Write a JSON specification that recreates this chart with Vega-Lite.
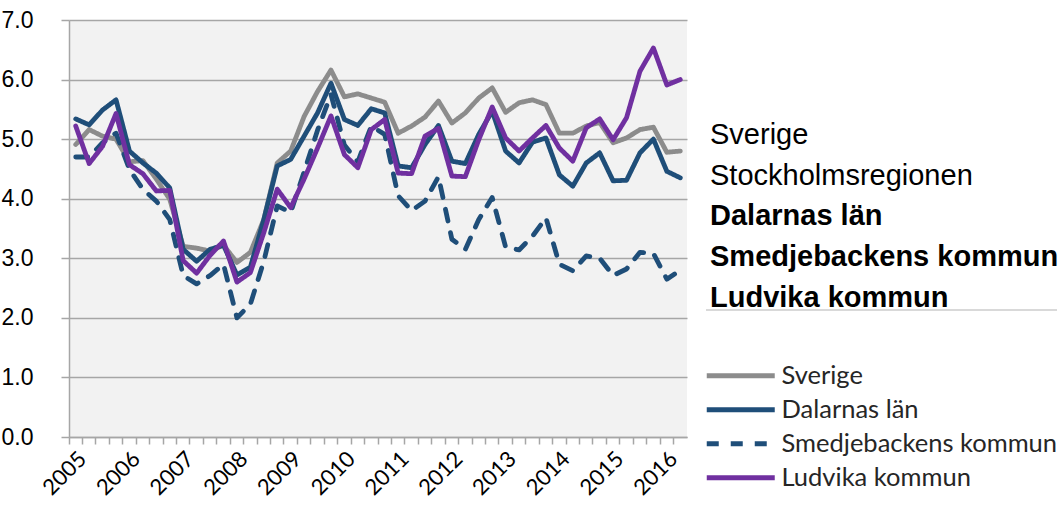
{
  "$schema": "https://vega.github.io/schema/vega-lite/v6.json",
  "background": "white",
  "padding": {"left": 1, "top": 9, "right": 0, "bottom": 0},
  "bounds": "flush",
  "center": true,
  "spacing": 19,
  "config": {"font": "Liberation Sans"},
  "datasets": {
    "kvartal": [
      {"kvartal": "2005 K1", "Sverige": 4.91, "Dalarnas län": 5.34, "Smedjebackens kommun": 4.70, "Ludvika kommun": 5.22},
      {"kvartal": "2005 K2", "Sverige": 5.16, "Dalarnas län": 5.24, "Smedjebackens kommun": 4.70, "Ludvika kommun": 4.59},
      {"kvartal": "2005 K3", "Sverige": 5.05, "Dalarnas län": 5.49, "Smedjebackens kommun": 4.94, "Ludvika kommun": 4.88},
      {"kvartal": "2005 K4", "Sverige": 5.00, "Dalarnas län": 5.66, "Smedjebackens kommun": 5.10, "Ludvika kommun": 5.43},
      {"kvartal": "2006 K1", "Sverige": 4.62, "Dalarnas län": 4.80, "Smedjebackens kommun": 4.49, "Ludvika kommun": 4.57},
      {"kvartal": "2006 K2", "Sverige": 4.64, "Dalarnas län": 4.60, "Smedjebackens kommun": 4.16, "Ludvika kommun": 4.42},
      {"kvartal": "2006 K3", "Sverige": 4.33, "Dalarnas län": 4.43, "Smedjebackens kommun": 3.96, "Ludvika kommun": 4.13},
      {"kvartal": "2006 K4", "Sverige": 3.99, "Dalarnas län": 4.18, "Smedjebackens kommun": 3.65, "Ludvika kommun": 4.14},
      {"kvartal": "2007 K1", "Sverige": 3.20, "Dalarnas län": 3.15, "Smedjebackens kommun": 2.71, "Ludvika kommun": 2.96},
      {"kvartal": "2007 K2", "Sverige": 3.17, "Dalarnas län": 2.95, "Smedjebackens kommun": 2.57, "Ludvika kommun": 2.75},
      {"kvartal": "2007 K3", "Sverige": 3.12, "Dalarnas län": 3.15, "Smedjebackens kommun": 2.71, "Ludvika kommun": 3.05},
      {"kvartal": "2007 K4", "Sverige": 3.22, "Dalarnas län": 3.22, "Smedjebackens kommun": 2.90, "Ludvika kommun": 3.29},
      {"kvartal": "2008 K1", "Sverige": 2.93, "Dalarnas län": 2.72, "Smedjebackens kommun": 2.00, "Ludvika kommun": 2.60},
      {"kvartal": "2008 K2", "Sverige": 3.10, "Dalarnas län": 2.85, "Smedjebackens kommun": 2.23, "Ludvika kommun": 2.76},
      {"kvartal": "2008 K3", "Sverige": 3.65, "Dalarnas län": 3.65, "Smedjebackens kommun": 2.95, "Ludvika kommun": 3.43},
      {"kvartal": "2008 K4", "Sverige": 4.60, "Dalarnas län": 4.55, "Smedjebackens kommun": 3.88, "Ludvika kommun": 4.16},
      {"kvartal": "2009 K1", "Sverige": 4.80, "Dalarnas län": 4.66, "Smedjebackens kommun": 3.77, "Ludvika kommun": 3.85},
      {"kvartal": "2009 K2", "Sverige": 5.38, "Dalarnas län": 5.05, "Smedjebackens kommun": 4.45, "Ludvika kommun": 4.33},
      {"kvartal": "2009 K3", "Sverige": 5.80, "Dalarnas län": 5.44, "Smedjebackens kommun": 5.15, "Ludvika kommun": 4.85},
      {"kvartal": "2009 K4", "Sverige": 6.16, "Dalarnas län": 5.94, "Smedjebackens kommun": 5.75, "Ludvika kommun": 5.39},
      {"kvartal": "2010 K1", "Sverige": 5.71, "Dalarnas län": 5.33, "Smedjebackens kommun": 4.90, "Ludvika kommun": 4.74},
      {"kvartal": "2010 K2", "Sverige": 5.76, "Dalarnas län": 5.23, "Smedjebackens kommun": 4.62, "Ludvika kommun": 4.52},
      {"kvartal": "2010 K3", "Sverige": 5.69, "Dalarnas län": 5.51, "Smedjebackens kommun": 5.22, "Ludvika kommun": 5.16},
      {"kvartal": "2010 K4", "Sverige": 5.62, "Dalarnas län": 5.44, "Smedjebackens kommun": 5.08, "Ludvika kommun": 5.33},
      {"kvartal": "2011 K1", "Sverige": 5.10, "Dalarnas län": 4.55, "Smedjebackens kommun": 4.05, "Ludvika kommun": 4.43},
      {"kvartal": "2011 K2", "Sverige": 5.22, "Dalarnas län": 4.52, "Smedjebackens kommun": 3.80, "Ludvika kommun": 4.42},
      {"kvartal": "2011 K3", "Sverige": 5.37, "Dalarnas län": 4.91, "Smedjebackens kommun": 3.96, "Ludvika kommun": 5.05},
      {"kvartal": "2011 K4", "Sverige": 5.64, "Dalarnas län": 5.23, "Smedjebackens kommun": 4.37, "Ludvika kommun": 5.18},
      {"kvartal": "2012 K1", "Sverige": 5.27, "Dalarnas län": 4.63, "Smedjebackens kommun": 3.32, "Ludvika kommun": 4.38},
      {"kvartal": "2012 K2", "Sverige": 5.44, "Dalarnas län": 4.59, "Smedjebackens kommun": 3.15, "Ludvika kommun": 4.37},
      {"kvartal": "2012 K3", "Sverige": 5.69, "Dalarnas län": 5.08, "Smedjebackens kommun": 3.65, "Ludvika kommun": 4.99},
      {"kvartal": "2012 K4", "Sverige": 5.86, "Dalarnas län": 5.47, "Smedjebackens kommun": 4.02, "Ludvika kommun": 5.54},
      {"kvartal": "2013 K1", "Sverige": 5.45, "Dalarnas län": 4.80, "Smedjebackens kommun": 3.19, "Ludvika kommun": 5.02},
      {"kvartal": "2013 K2", "Sverige": 5.61, "Dalarnas län": 4.60, "Smedjebackens kommun": 3.14, "Ludvika kommun": 4.80},
      {"kvartal": "2013 K3", "Sverige": 5.66, "Dalarnas län": 4.95, "Smedjebackens kommun": 3.37, "Ludvika kommun": 5.02},
      {"kvartal": "2013 K4", "Sverige": 5.58, "Dalarnas län": 5.02, "Smedjebackens kommun": 3.68, "Ludvika kommun": 5.23},
      {"kvartal": "2014 K1", "Sverige": 5.10, "Dalarnas län": 4.40, "Smedjebackens kommun": 2.90, "Ludvika kommun": 4.85},
      {"kvartal": "2014 K2", "Sverige": 5.10, "Dalarnas län": 4.21, "Smedjebackens kommun": 2.79, "Ludvika kommun": 4.63},
      {"kvartal": "2014 K3", "Sverige": 5.22, "Dalarnas län": 4.60, "Smedjebackens kommun": 3.04, "Ludvika kommun": 5.19},
      {"kvartal": "2014 K4", "Sverige": 5.28, "Dalarnas län": 4.77, "Smedjebackens kommun": 3.00, "Ludvika kommun": 5.34},
      {"kvartal": "2015 K1", "Sverige": 4.94, "Dalarnas län": 4.30, "Smedjebackens kommun": 2.71, "Ludvika kommun": 4.99},
      {"kvartal": "2015 K2", "Sverige": 5.02, "Dalarnas län": 4.31, "Smedjebackens kommun": 2.82, "Ludvika kommun": 5.36},
      {"kvartal": "2015 K3", "Sverige": 5.16, "Dalarnas län": 4.77, "Smedjebackens kommun": 3.10, "Ludvika kommun": 6.14},
      {"kvartal": "2015 K4", "Sverige": 5.20, "Dalarnas län": 5.00, "Smedjebackens kommun": 3.08, "Ludvika kommun": 6.53},
      {"kvartal": "2016 K1", "Sverige": 4.78, "Dalarnas län": 4.46, "Smedjebackens kommun": 2.65, "Ludvika kommun": 5.91},
      {"kvartal": "2016 K2", "Sverige": 4.80, "Dalarnas län": 4.35, "Smedjebackens kommun": 2.80, "Ludvika kommun": 6.00}
    ],
    "texter": [
      {"text": "Sverige", "markerad": false},
      {"text": "Stockholmsregionen", "markerad": false},
      {"text": "Dalarnas län", "markerad": true},
      {"text": "Smedjebackens kommun", "markerad": true},
      {"text": "Ludvika kommun", "markerad": true}
    ]
  },
  "hconcat": [
    {
      "width": 618,
      "height": 417,
      "view": {"fill": "#f2f2f2", "stroke": null},
      "data": {"name": "kvartal"},
      "transform": [
        {"fold": ["Sverige", "Dalarnas län", "Smedjebackens kommun", "Ludvika kommun"], "as": ["serie", "varde"]}
      ],
      "mark": {"type": "line", "strokeWidth": 4.8, "strokeJoin": "round", "strokeCap": "round"},
      "encoding": {
        "x": {
          "field": "kvartal", "type": "ordinal", "bandPosition": 0.5,
          "scale": {"type": "band", "paddingInner": 0, "paddingOuter": 0},
          "axis": {
            "title": null, "bandPosition": 0, "labelAngle": -45,
            "labelExpr": "slice(datum.value, -2) == 'K1' ? slice(datum.value, 0, 4) : ''",
            "labelFont": "Lato", "labelFontSize": 22, "labelColor": "#000000",
            "labelOverlap": false, "labelBound": false, "labelPadding": 4,
            "tickSize": 7, "tickColor": "#a6a6a6", "tickWidth": 1.5,
            "domainColor": "#a6a6a6", "domainWidth": 1.5, "grid": false
          }
        },
        "y": {
          "field": "varde", "type": "quantitative",
          "scale": {"domain": [0, 7], "nice": false},
          "axis": {
            "title": null, "values": [0, 1, 2, 3, 4, 5, 6, 7], "format": ".1f",
            "labelFont": "Liberation Sans", "labelFontSize": 23, "labelColor": "#000000",
            "labelPadding": 28, "tickSize": 8, "tickColor": "#a6a6a6", "tickWidth": 1.5,
            "domainColor": "#a6a6a6", "domainWidth": 1.5,
            "gridColor": "#a6a6a6", "gridWidth": 1.5
          }
        },
        "color": {
          "field": "serie", "type": "nominal",
          "scale": {
            "domain": ["Sverige", "Dalarnas län", "Smedjebackens kommun", "Ludvika kommun"],
            "range": ["#8c8c8c", "#1f4e79", "#1f4e79", "#7030a0"]
          },
          "legend": {
            "title": null, "orient": "none", "legendX": 659, "legendY": 343,
            "symbolType": "M-4,0H4", "symbolSize": 289, "symbolStrokeWidth": 5,
            "labelFont": "Lato", "labelFontSize": 25.5, "labelColor": "#262626",
            "labelOffset": 28, "rowPadding": 7, "labelLimit": 400
          }
        },
        "strokeDash": {
          "field": "serie", "type": "nominal",
          "scale": {
            "domain": ["Sverige", "Dalarnas län", "Smedjebackens kommun", "Ludvika kommun"],
            "range": [[1, 0], [1, 0], [12, 12], [1, 0]]
          },
          "legend": {
            "title": null, "orient": "none", "legendX": 659, "legendY": 343,
            "symbolType": "M-4,0H4", "symbolSize": 289, "symbolStrokeWidth": 5,
            "labelFont": "Lato", "labelFontSize": 25.5, "labelColor": "#262626",
            "labelOffset": 28, "rowPadding": 7, "labelLimit": 400
          }
        }
      }
    },
    {
      "width": 351,
      "height": 268.95,
      "view": {"stroke": null},
      "data": {"name": "texter"},
      "encoding": {
        "y": {
          "field": "text", "type": "nominal", "sort": null,
          "scale": {
            "type": "band",
            "domain": ["Sverige", "Stockholmsregionen", "Dalarnas län", "Smedjebackens kommun", "Ludvika kommun"],
            "paddingInner": 0.4, "paddingOuter": 1, "align": 0.351
          },
          "axis": null
        }
      },
      "layer": [
        {
          "transform": [{"filter": "!datum.markerad"}],
          "mark": {"type": "text", "align": "left", "baseline": "middle", "font": "Liberation Sans", "fontSize": 29, "color": "#000000", "dx": 4},
          "encoding": {
            "x": {"datum": 0, "type": "quantitative", "scale": {"domain": [0, 1]}, "axis": null},
            "y": {"field": "text", "type": "nominal", "bandPosition": 0.5},
            "text": {"field": "text"}
          }
        },
        {
          "transform": [{"filter": "datum.markerad"}],
          "mark": {"type": "text", "align": "left", "baseline": "middle", "font": "Liberation Sans", "fontSize": 29, "fontWeight": "bold", "color": "#000000", "dx": 4},
          "encoding": {
            "x": {"datum": 0, "type": "quantitative", "scale": {"domain": [0, 1]}, "axis": null},
            "y": {"field": "text", "type": "nominal", "bandPosition": 0.5},
            "text": {"field": "text"}
          }
        },
        {
          "transform": [{"filter": "datum.text === 'Ludvika kommun'"}],
          "mark": {"type": "rule", "color": "#d9d9d9", "strokeWidth": 2},
          "encoding": {
            "y": {"field": "text", "type": "nominal", "bandPosition": 1}
          }
        }
      ]
    }
  ]
}
